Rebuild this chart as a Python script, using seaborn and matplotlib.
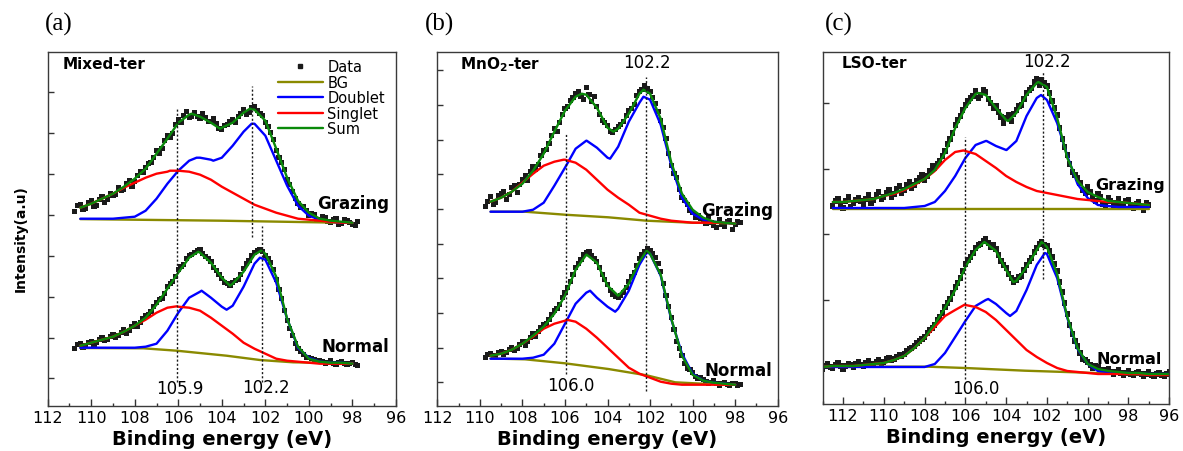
import matplotlib
matplotlib.use('Agg')
import matplotlib.pyplot as plt
from matplotlib.lines import Line2D
from matplotlib.ticker import MultipleLocator, NullLocator
import numpy as np
import pandas as pd
import seaborn as sns

# ---------------- values (intensity, a.u.) ----------------
# fit curves: read every 0.5 eV plus at their maxima / minima (*_pk)
# data points: read every 0.25 eV (*_data) and in between (*_mid)

# (a) Mixed-ter
a_grid = np.round(np.arange(110.5, 97.9, -0.5), 2)
a_g_doublet = [187, 187, 187, 187, 188, 189, 195, 207, 222, 235, 245, 248, 246,
               248, 260, 274, 282, 270, 245, 220, 200, 190, 186, 184, 183, 183]
a_g_singlet = [198, 202, 207, 212, 218, 223, 228, 232, 234, 235, 234, 231, 226,
               219, 213, 207, 201, 197, 193, 190, 187, 186, 185, 184, 183, 183]
a_g_sum = [198, 202, 207, 212, 219, 227, 237, 252, 267, 283, 291, 289, 283,
           278, 283, 293, 296, 285, 257, 228, 205, 193, 187, 185, 184, 183]
a_g_doublet_pk = ([105.16, 104.39, 102.63], [248, 245, 282])
a_g_singlet_pk = ([106.38], [235])
a_g_sum_pk = ([105.39, 104.08, 102.71], [292, 277, 297])
a_g_bg_e = [110.5, 104.0, 98.0]
a_g_bg = [186.6, 185.0, 182.8]
a_n_doublet = [58, 58, 58, 58, 58, 58, 59, 62, 75, 93, 108, 114, 108,
               99, 100, 119, 142, 146, 123, 87, 58, 48, 44, 43, 43, 42]
a_n_singlet = [60, 63, 66, 69, 74, 80, 86, 93, 98, 99, 98, 95, 88,
               80, 72, 63, 57, 52, 47, 45, 44, 43, 42, 42, 42, 42]
a_n_sum = [60, 63, 66, 69, 74, 80, 88, 101, 117, 133, 148, 153, 143,
           128, 122, 134, 151, 152, 129, 87, 59, 47, 44, 43, 43, 42]
a_n_doublet_pk = ([104.93, 103.78, 102.25], [115, 96, 148])
a_n_singlet_pk = ([106.07], [99.4])
a_n_sum_pk = ([105.08, 103.62, 102.2], [154, 120, 155])
a_n_bg_e = [110.5, 107.6, 106.07, 103.78, 102.25, 100.72, 98.0]
a_n_bg = [57.7, 57.4, 55.0, 50.0, 45.7, 43.4, 42.4]
a_data_e = np.round(np.arange(110.75, 97.7, -0.25), 2)
a_g_data = [194, 201, 197, 205, 200, 209, 206, 210, 218, 216, 225, 224, 234, 238,
            243, 255, 257, 270, 272, 286, 290, 288, 293, 287, 288, 284, 282, 276,
            281, 286, 289, 296, 293, 299, 292, 283, 273, 255, 243, 226, 214, 202,
            199, 190, 191, 186, 188, 183, 187, 182, 185, 181, 184]
a_g_mid = [200, 196, 203, 199, 206, 203, 212, 211, 215, 222, 219, 230, 233, 242,
           248, 252, 265, 268, 281, 283, 294, 289, 289, 292, 284, 287, 277, 280,
           284, 283, 292, 291, 298, 295, 290, 279, 266, 248, 236, 221, 207, 198,
           195, 192, 186, 189, 184, 186, 181, 186, 183, 180]
a_n_data = [57, 62, 60, 64, 63, 68, 66, 71, 70, 76, 75, 82, 83, 90, 94, 103, 107,
            119, 124, 136, 141, 150, 153, 156, 149, 144, 135, 127, 122, 123, 126,
            137, 145, 153, 156, 150, 143, 126, 107, 85, 70, 57, 51, 48, 46, 45,
            42, 45, 41, 44, 41, 43, 40]
a_n_mid = [61, 58, 63, 61, 66, 65, 69, 68, 73, 72, 79, 79, 87, 91, 99, 106, 112,
           122, 129, 139, 147, 151, 155, 152, 147, 138, 131, 123, 120, 125, 131,
           142, 150, 155, 154, 147, 136, 116, 95, 77, 62, 54, 48, 47, 44, 44, 43,
           42, 43, 42, 42, 41]

# (b) MnO2-ter
b_grid = np.round(np.arange(109.5, 97.9, -0.5), 2)
b_g_doublet = [194, 194, 194, 194, 196, 203, 220, 238, 257, 265, 258, 248,
               259, 284, 303, 306, 281, 240, 208, 192, 186, 184, 183, 182]
b_g_singlet = [204, 208, 214, 223, 232, 240, 244, 246, 243, 236, 226, 216,
               208, 201, 193, 190, 187, 185, 184, 183, 183, 183, 183, 182]
b_g_sum = [204, 208, 214, 222, 235, 252, 274, 295, 309, 311, 298, 278,
           277, 292, 312, 312, 287, 243, 212, 196, 188, 184, 183, 182]
b_g_doublet_pk = ([104.98, 103.88, 102.31], [265, 247, 309])
b_g_singlet_pk = ([106.07], [246])
b_g_sum_pk = ([105.21, 103.72, 102.31], [312, 274, 316])
b_g_bg_e = [109.5, 107.88, 106.0, 103.96, 102.16, 100.04, 98.0]
b_g_bg = [194.0, 194.0, 191.0, 188.4, 185.0, 183.0, 182.4]
b_n_doublet = [47, 47, 47, 47, 48, 51, 62, 82, 102, 113, 108, 99,
               97, 115, 141, 152, 130, 86, 52, 32, 25, 23, 22, 21]
b_n_singlet = [50, 52, 56, 62, 69, 77, 82, 85, 84, 77, 68, 58,
               48, 38, 32, 28, 24, 22, 21, 21, 21, 21, 21, 21]
b_n_sum = [50, 52, 56, 62, 70, 79, 92, 110, 136, 151, 143, 120,
           110, 122, 144, 152, 131, 87, 50, 31, 25, 23, 22, 21]
b_n_doublet_pk = ([104.82, 103.64, 102.16], [115, 94, 153])
b_n_singlet_pk = ([105.92], [86])
b_n_sum_pk = ([104.98, 103.49, 102.16], [151, 110, 155])
b_n_bg_e = [109.5, 107.88, 106.0, 103.96, 102.16, 100.82, 99.26, 98.0]
b_n_bg = [47.2, 46.4, 42.4, 36.7, 30.4, 23.4, 21.7, 21.0]
b_data_e = np.round(np.arange(109.75, 97.7, -0.25), 2)
b_g_data = [199, 209, 203, 212, 206, 218, 213, 226, 225, 239, 241, 255, 262, 277,
            283, 297, 305, 312, 309, 318, 304, 299, 285, 280, 273, 279, 284, 295,
            301, 314, 320, 314, 302, 285, 267, 240, 228, 208, 201, 193, 190, 184,
            189, 180, 186, 179, 185, 181, 183]
b_g_mid = [204, 201, 210, 214, 211, 220, 221, 230, 234, 236, 250, 256, 270, 274,
           291, 299, 308, 314, 306, 311, 309, 291, 283, 274, 276, 281, 290, 297,
           310, 316, 317, 308, 294, 278, 252, 232, 216, 205, 195, 188, 187, 182,
           183, 178, 181, 184, 176, 184]
b_n_data = [48, 52, 50, 54, 53, 58, 57, 64, 64, 72, 74, 81, 86, 95, 101, 113, 124,
            138, 146, 153, 150, 144, 131, 121, 111, 108, 113, 124, 133, 147, 154,
            155, 148, 134, 110, 88, 64, 50, 37, 33, 27, 26, 22, 25, 20, 23, 20,
            22, 21]
b_n_mid = [51, 49, 53, 51, 56, 55, 61, 60, 68, 69, 78, 82, 91, 97, 108, 118, 131,
           142, 151, 154, 147, 138, 126, 115, 109, 110, 118, 129, 140, 151, 157,
           152, 142, 122, 99, 76, 57, 42, 36, 29, 28, 24, 23, 22, 22, 21, 22, 20]

# (c) LSO-ter
c_g_grid = np.round(np.arange(112.5, 96.9, -0.5), 2)
c_g_doublet = [196, 196, 196, 196, 196, 196, 196, 196, 197, 198, 202, 213, 228,
               246, 259, 263, 258, 254, 263, 288, 306, 304, 281, 248, 220, 206,
               199, 198, 197, 197, 197, 197]
c_g_singlet = [202, 202, 203, 204, 205, 208, 210, 214, 219, 225, 233, 244, 252,
               253, 250, 243, 236, 228, 222, 217, 213, 211, 209, 207, 205, 204,
               203, 202, 202, 201, 200, 199]
c_g_sum = [202, 202, 203, 204, 205, 208, 211, 215, 220, 225, 234, 251, 276,
           296, 310, 309, 296, 284, 291, 309, 321, 317, 286, 246, 223, 212,
           207, 203, 202, 201, 200, 199]
c_g_doublet_pk = ([104.96, 103.98, 102.29], [263, 254, 309])
c_g_singlet_pk = ([106.1], [253.5])
c_g_sum_pk = ([105.37, 103.9, 102.42], [311, 283, 322])
c_g_bg_e = [112.5, 97.0]
c_g_bg = [195.0, 195.0]
c_n_grid = np.round(np.arange(113.0, 95.9, -0.5), 2)
c_n_doublet = [37, 37, 37, 37, 37, 37, 37, 37, 37, 37, 37, 40, 51, 67, 83, 98,
               104, 100, 91, 93, 114, 139, 150, 126, 86, 55, 40, 33, 32, 31, 31,
               30, 30, 30, 30]
c_n_singlet = [37, 38, 38, 38, 39, 40, 41, 44, 48, 56, 66, 77, 88, 94, 99, 97,
               92, 84, 74, 64, 54, 47, 41, 36, 33, 32, 31, 30, 30, 30, 30, 30,
               29, 29, 29]
c_n_sum = [37, 38, 38, 38, 39, 40, 41, 44, 48, 56, 66, 80, 96, 114, 137, 154,
           161, 153, 134, 123, 137, 154, 157, 130, 87, 56, 40, 35, 33, 32, 31,
           31, 30, 30, 30]
c_n_doublet_pk = ([104.88, 103.81, 102.1], [105, 88, 151])
c_n_singlet_pk = ([106.02], [99.5])
c_n_sum_pk = ([105.07, 103.65, 102.26], [162, 122, 162])
c_n_bg_e = [113.0, 107.82, 106.02, 103.08, 100.63, 98.17, 96.0]
c_n_bg = [37.3, 37.3, 36.0, 33.3, 31.7, 30.0, 29.3]
c_g_data_e = np.round(np.arange(112.5, 96.9, -0.25), 2)
c_g_data = [198, 205, 196, 207, 201, 206, 200, 209, 204, 212, 207, 214, 210, 218,
            214, 222, 219, 226, 224, 233, 236, 243, 253, 265, 279, 288, 299, 306,
            313, 309, 312, 301, 298, 287, 286, 283, 294, 299, 311, 316, 325, 324,
            318, 303, 289, 265, 249, 232, 226, 214, 217, 206, 210, 200, 206, 197,
            205, 198, 204, 196, 202, 194, 199]
c_g_mid = [203, 199, 203, 197, 204, 203, 205, 201, 209, 205, 211, 207, 215, 211,
           219, 216, 223, 229, 228, 238, 240, 248, 260, 271, 284, 294, 303, 308,
           306, 314, 305, 296, 292, 281, 289, 290, 298, 305, 314, 322, 319, 321,
           311, 296, 276, 257, 240, 229, 221, 211, 212, 203, 207, 199, 203, 201,
           200, 203, 197, 200, 197, 201]
c_n_data_e = np.round(np.arange(113.0, 95.9, -0.25), 2)
c_n_data = [35, 40, 36, 41, 35, 40, 37, 42, 38, 43, 39, 44, 42, 46, 45, 49, 50,
            55, 58, 63, 67, 74, 79, 87, 97, 105, 117, 126, 140, 147, 156, 160,
            165, 157, 155, 143, 136, 126, 124, 128, 139, 146, 156, 162, 158, 147,
            133, 112, 90, 70, 58, 45, 42, 36, 37, 32, 35, 30, 34, 29, 33, 29, 32,
            28, 32, 28, 31, 28, 32]
c_n_mid = [38, 37, 39, 38, 38, 39, 40, 39, 41, 40, 42, 41, 45, 44, 47, 48, 53, 56,
           61, 65, 71, 76, 84, 91, 101, 111, 121, 133, 144, 151, 159, 163, 161,
           159, 149, 139, 130, 122, 127, 134, 143, 152, 160, 159, 153, 140, 122,
           101, 79, 63, 51, 44, 39, 38, 34, 34, 32, 32, 31, 31, 30, 31, 30, 30,
           29, 30, 29, 30]

# peak markers: (energy, from, to)
a_marks = [(106.05, 24, 299), (102.6, 169, 320), (102.15, 24, 180)]
b_marks = [(105.96, 32, 272), (102.2, 15, 329)]
c_marks = [(106.04, 25, 267), (102.18, 125, 333)]

# ---------------- styling ----------------
sns.set_theme(style='ticks')
plt.rcParams['font.family'] = ['DejaVu Sans']
plt.rcParams['mathtext.fontset'] = 'dejavusans'
plt.rcParams['text.color'] = 'black'
plt.rcParams['axes.labelcolor'] = 'black'

ORDER = ['BG', 'Doublet', 'Singlet', 'Sum']
PAL = {'BG': '#8a8a00', 'Doublet': '#0000ff', 'Singlet': '#ff0000', 'Sum': '#0a8a0a'}


def curve(comp, grid, vals, pk=None):
    e = list(grid)
    v = list(vals)
    if pk is not None:
        e += pk[0]
        v += pk[1]
    return pd.DataFrame({'E': e, 'I': v, 'comp': comp})


def spectrum(name, grid, doublet, singlet, total, pks, bg_e, bg):
    df = pd.concat([curve('BG', bg_e, bg),
                    curve('Doublet', grid, doublet, pks[0]),
                    curve('Singlet', grid, singlet, pks[1]),
                    curve('Sum', grid, total, pks[2])], ignore_index=True)
    df['spec'] = name
    return df


def points(e, vals, mid):
    e = np.asarray(e)
    return pd.DataFrame({'E': np.concatenate([e, e[:-1] - 0.125]),
                         'I': list(vals) + list(mid)})


def draw(ax, fits, pts, xlim, ylim, yticks, marks):
    sns.scatterplot(data=pts, x='E', y='I', marker='s', s=14, color='k',
                    edgecolor='none', linewidth=0, legend=False, ax=ax, zorder=1)
    sns.lineplot(data=fits, x='E', y='I', hue='comp', units='spec', estimator=None,
                 hue_order=ORDER, palette=PAL, lw=1.7, legend=False, ax=ax)
    for e, y0, y1 in marks:
        ax.vlines(e, y0, y1, colors='k', linestyles=(0, (1.5, 1.5)), linewidth=1.0, zorder=3)
    ax.set_xlim(*xlim)
    ax.set_ylim(*ylim)
    ax.xaxis.set_major_locator(MultipleLocator(2))
    ax.xaxis.set_minor_locator(MultipleLocator(1))
    ax.set_yticks(yticks)
    ax.yaxis.set_minor_locator(NullLocator())
    ax.tick_params(which='both', direction='in', top=False, right=False, colors='#333333')
    ax.tick_params(axis='x', which='major', length=5, width=1, labelsize=11.5, pad=3,
                   labelcolor='black')
    ax.tick_params(axis='x', which='minor', length=2.5, width=1)
    ax.tick_params(axis='y', which='major', length=4, width=1, labelleft=False)
    ax.set_xlabel('Binding energy (eV)', fontsize=14, fontweight='bold', labelpad=3)
    ax.set_ylabel('')
    for sp in ax.spines.values():
        sp.set_color('#3a3a3a')
        sp.set_linewidth(1.0)


fig = plt.figure(figsize=(11.83, 4.52), dpi=100)
ax_a = fig.add_axes([0.0403, 0.1002, 0.2944, 0.7832])
ax_b = fig.add_axes([0.3697, 0.1002, 0.2877, 0.7832])
ax_c = fig.add_axes([0.6954, 0.1040, 0.2930, 0.7781])

fits_a = pd.concat([
    spectrum('g', a_grid, a_g_doublet, a_g_singlet, a_g_sum,
             (a_g_doublet_pk, a_g_singlet_pk, a_g_sum_pk), a_g_bg_e, a_g_bg),
    spectrum('n', a_grid, a_n_doublet, a_n_singlet, a_n_sum,
             (a_n_doublet_pk, a_n_singlet_pk, a_n_sum_pk), a_n_bg_e, a_n_bg)])
pts_a = pd.concat([points(a_data_e, a_g_data, a_g_mid), points(a_data_e, a_n_data, a_n_mid)])
draw(ax_a, fits_a, pts_a, (112, 96), (0, 354), 27.3 + 40.86 * np.arange(8), a_marks)

fits_b = pd.concat([
    spectrum('g', b_grid, b_g_doublet, b_g_singlet, b_g_sum,
             (b_g_doublet_pk, b_g_singlet_pk, b_g_sum_pk), b_g_bg_e, b_g_bg),
    spectrum('n', b_grid, b_n_doublet, b_n_singlet, b_n_sum,
             (b_n_doublet_pk, b_n_singlet_pk, b_n_sum_pk), b_n_bg_e, b_n_bg)])
pts_b = pd.concat([points(b_data_e, b_g_data, b_g_mid), points(b_data_e, b_n_data, b_n_mid)])
draw(ax_b, fits_b, pts_b, (112, 96), (0, 354), 23.3 + 34.7 * np.arange(10), b_marks)

fits_c = pd.concat([
    spectrum('g', c_g_grid, c_g_doublet, c_g_singlet, c_g_sum,
             (c_g_doublet_pk, c_g_singlet_pk, c_g_sum_pk), c_g_bg_e, c_g_bg),
    spectrum('n', c_n_grid, c_n_doublet, c_n_singlet, c_n_sum,
             (c_n_doublet_pk, c_n_singlet_pk, c_n_sum_pk), c_n_bg_e, c_n_bg)])
pts_c = pd.concat([points(c_g_data_e, c_g_data, c_g_mid), points(c_n_data_e, c_n_data, c_n_mid)])
draw(ax_c, fits_c, pts_c, (113, 96), (0, 351.7), 104 + 65.6 * np.arange(4), c_marks)

ax_a.set_ylabel('Intensity(a.u)', fontsize=10, fontweight='bold')
ax_a.yaxis.set_label_coords(-0.057, 0.474)

# sample names
ax_a.text(0.044, 0.968, 'Mixed-ter', transform=ax_a.transAxes, fontsize=11,
          fontweight='bold', ha='left', va='center')
ax_b.text(0.067, 0.965, r'MnO$_\mathbf{2}$-ter', transform=ax_b.transAxes, fontsize=11,
          fontweight='bold', ha='left', va='center')
ax_c.text(0.056, 0.972, 'LSO-ter', transform=ax_c.transAxes, fontsize=11,
          fontweight='bold', ha='left', va='center')

# geometry labels
for ax, pos_g, pos_n, fs in [(ax_a, (97.95, 203), (97.88, 60), 12),
                             (ax_b, (97.89, 196), (97.84, 36), 12),
                             (ax_c, (97.93, 219), (97.98, 45), 11.5)]:
    ax.text(*pos_g, 'Grazing', fontsize=fs, fontweight='bold', ha='center', va='center', zorder=5)
    ax.text(*pos_n, 'Normal', fontsize=fs, fontweight='bold', ha='center', va='center', zorder=5)

# peak position labels
for ax, e, y, s in [(ax_a, 105.92, 18, '105.9'), (ax_a, 101.97, 19, '102.2'),
                    (ax_b, 102.14, 344, '102.2'), (ax_b, 105.71, 21, '106.0'),
                    (ax_c, 102.0, 343, '102.2'), (ax_c, 105.48, 16, '106.0')]:
    ax.text(e, y, s, fontsize=12, ha='center', va='center')

# legend of panel (a)
handles = [Line2D([], [], ls='none', marker='s', ms=3.5, color='k', label='Data')]
handles += [Line2D([], [], color=PAL[k], lw=1.7, label=k) for k in ORDER]
ax_a.legend(handles=handles, loc='upper left', bbox_to_anchor=(0.661, 0.978),
            frameon=False, fontsize=10.5, handlelength=3.1, handletextpad=0.3,
            labelspacing=0.03, borderpad=0, borderaxespad=0)

# panel letters
for x, s in [(45, '(a)'), (425, '(b)'), (825, '(c)')]:
    fig.text(x / 1183, 1 - 24 / 452, s, fontsize=18, family='Liberation Serif',
             ha='left', va='center')

fig.savefig('out.png', dpi=100, facecolor='white')
